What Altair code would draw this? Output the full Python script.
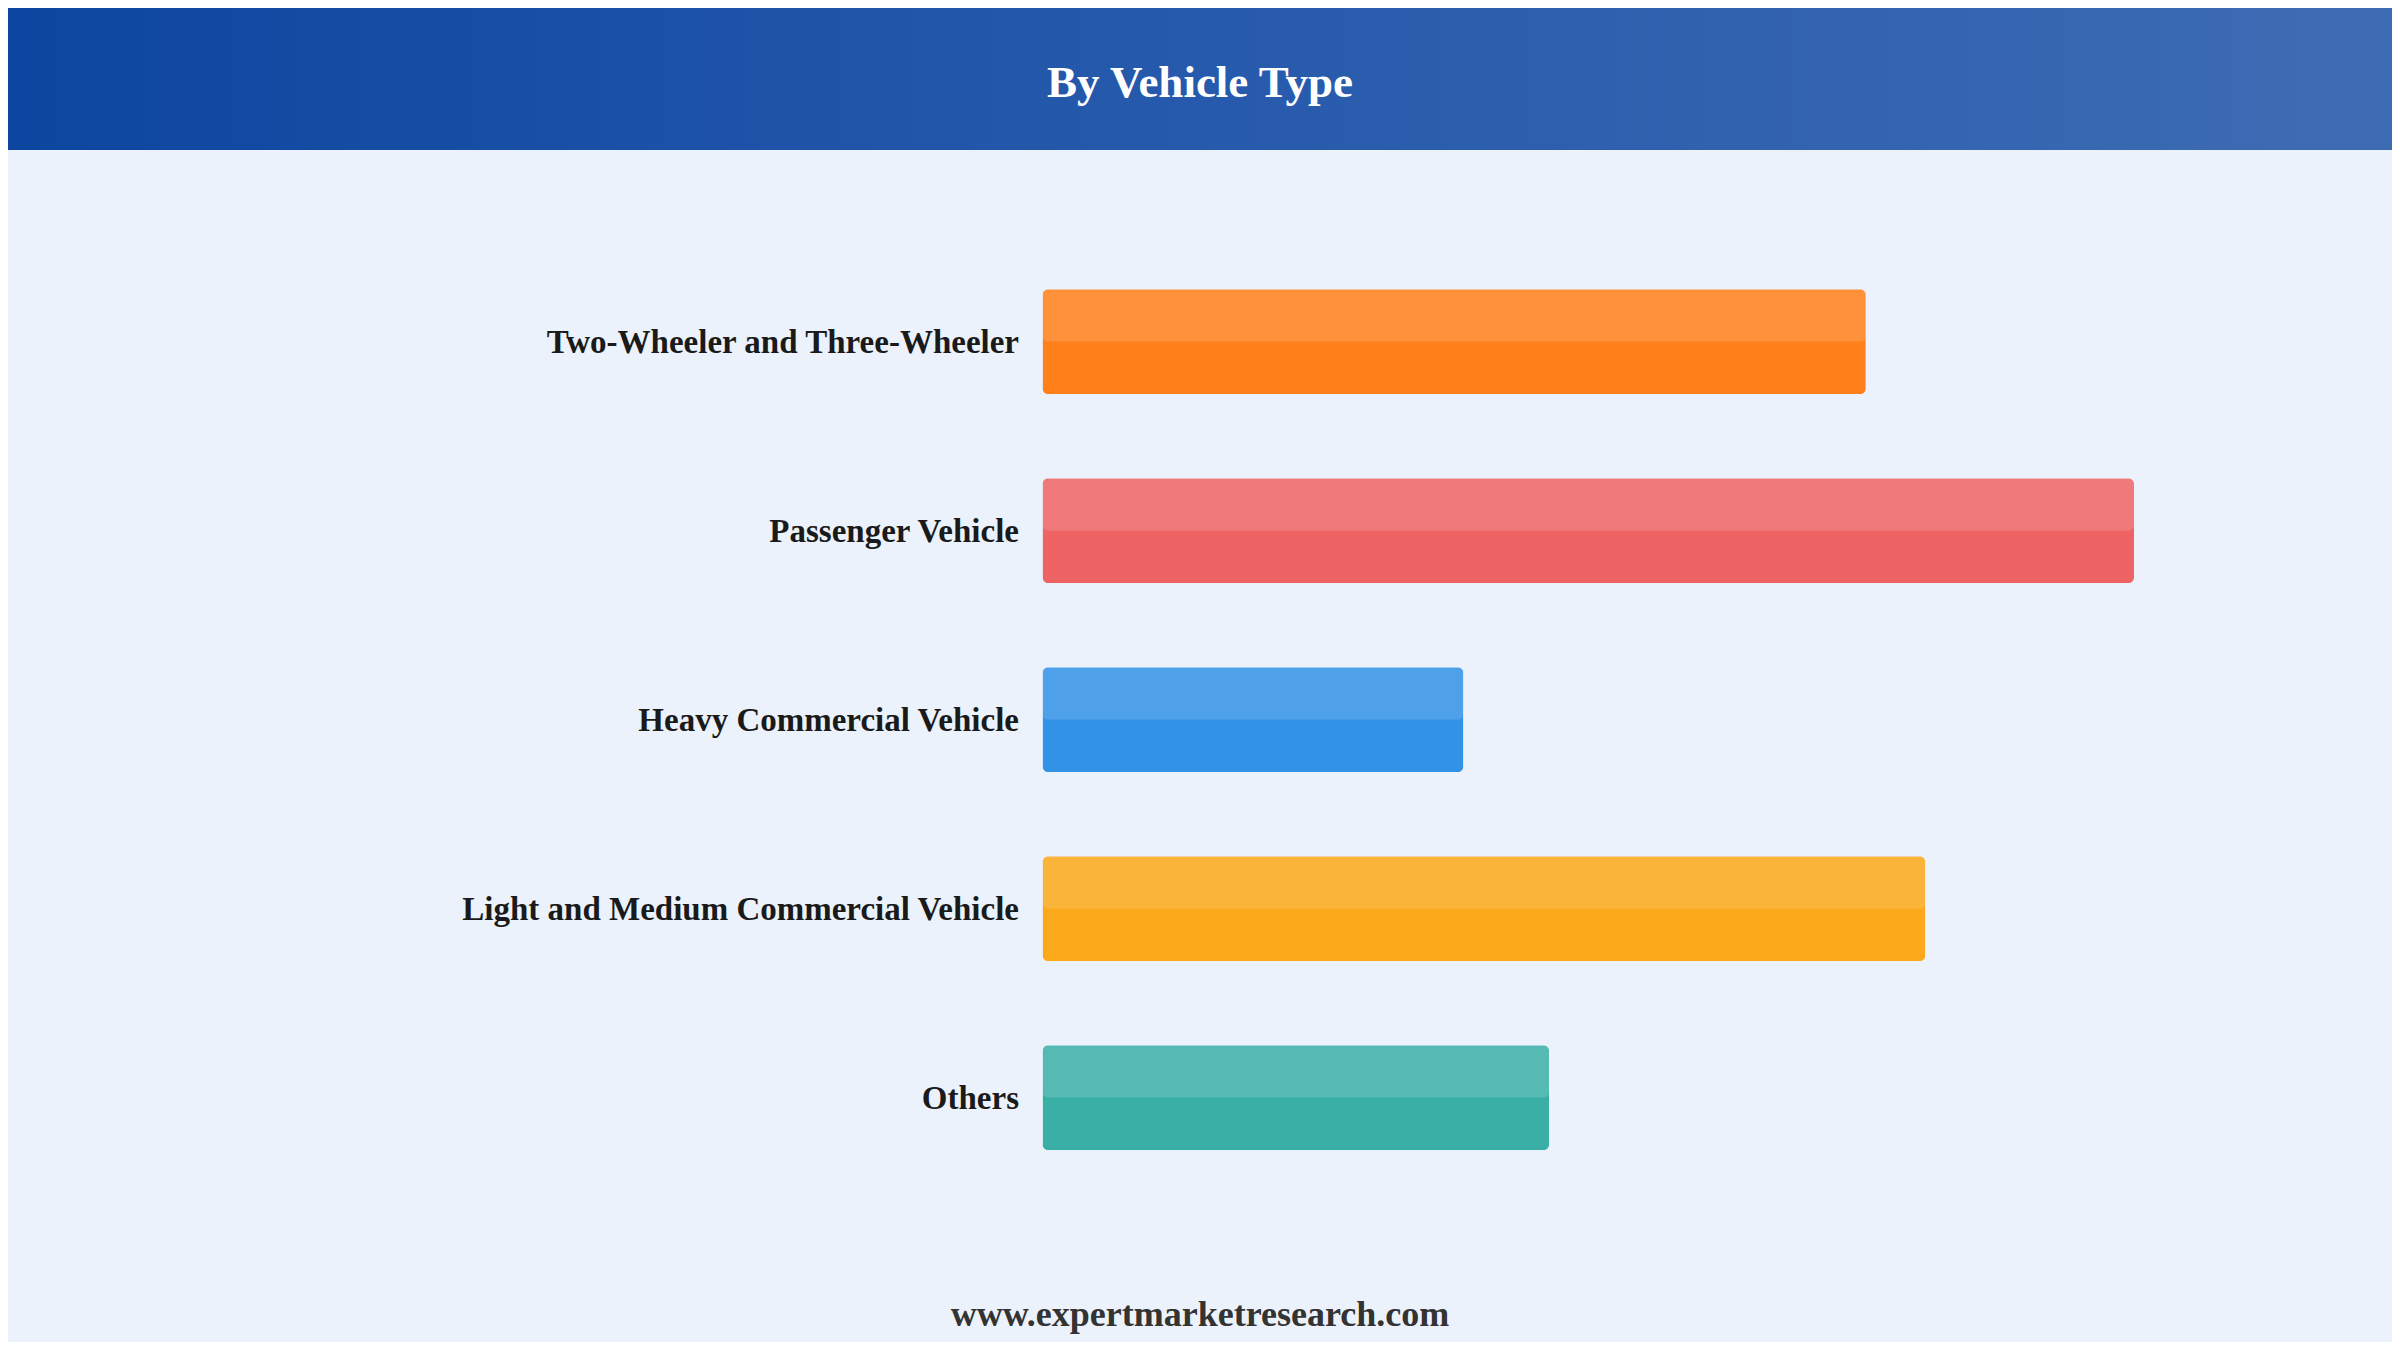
import altair as alt
import pandas as pd

categories = [
    "Two-Wheeler and Three-Wheeler",
    "Passenger Vehicle",
    "Heavy Commercial Vehicle",
    "Light and Medium Commercial Vehicle",
    "Others",
]
values = [22.1, 29.3, 11.3, 23.7, 13.6]
bar_colors = ["#FF7F1B", "#EE6464", "#3292E6", "#FBA81A", "#3AAFA6"]
title_text = "By Vehicle Type"
footer_text = "www.expertmarketresearch.com"

df = pd.DataFrame({"category": categories, "value": values})
one = pd.DataFrame({"k": [0]})

W, H = 1091.5, 945
PL, PT = 1034.5, 239.3
TOTAL_W, TOTAL_H = 2384, 1334
PR = TOTAL_W - PL - W
PB = TOTAL_H - PT - H

yaxis = alt.Axis(
    title=None, domain=False, ticks=False, tickSize=0, labelPadding=24,
    labelFontSize=33, labelFont="Liberation Serif", labelFontWeight="bold",
    labelColor="#1a1a1a", labelLimit=1200, grid=False, labelOffset=1,
)
y = alt.Y("category:N", sort=categories,
          scale=alt.Scale(paddingInner=0, paddingOuter=0), axis=yaxis)
x = alt.X("value:Q", scale=alt.Scale(domain=[0, 29.3], nice=False, zero=True), axis=None)

header = alt.Chart(one).mark_rect(
    fill=alt.LinearGradient(
        gradient="linear",
        stops=[alt.GradientStop(color="#0D46A0", offset=0),
               alt.GradientStop(color="#2458AB", offset=0.45),
               alt.GradientStop(color="#3E6CB4", offset=1)],
        x1=0, x2=1, y1=0, y2=0,
    )
).encode(
    x=alt.value(-PL), x2=alt.value(TOTAL_W - PL),
    y=alt.value(-PT - 10), y2=alt.value(150 - 8 - PT),
)

title = alt.Chart(one).mark_text(
    font="Liberation Serif", fontSize=45, fontWeight="bold", color="white",
    align="center", baseline="alphabetic",
).encode(x=alt.value(1200 - 8 - PL), y=alt.value(96.5 - 8 - PT), text=alt.value(title_text))

footer = alt.Chart(one).mark_text(
    font="Liberation Serif", fontSize=36, fontWeight="bold", color="#333333",
    align="center", baseline="alphabetic",
).encode(x=alt.value(1200 - 8 - PL), y=alt.value(1326 - 8 - PT), text=alt.value(footer_text))

bars = alt.Chart(df).mark_bar(size=105, cornerRadius=6).encode(
    y=y, x=x,
    color=alt.Color("category:N", scale=alt.Scale(domain=categories, range=bar_colors), legend=None),
)

shine = alt.Chart(df).mark_bar(
    size=52.5, yOffset=-26.25, cornerRadius=6, fill="white", fillOpacity=0.14
).encode(y=y, x=x)

chart = alt.layer(header, title, bars, shine, footer).properties(
    width=W, height=H,
    autosize=alt.AutoSizeParams(type="none"),
    padding={"left": PL, "top": PT, "right": PR, "bottom": PB},
    background="#EBF2FB",
).configure_view(strokeWidth=0)

chart.save("out.html", embed_options={"renderer": "svg", "actions": False})
